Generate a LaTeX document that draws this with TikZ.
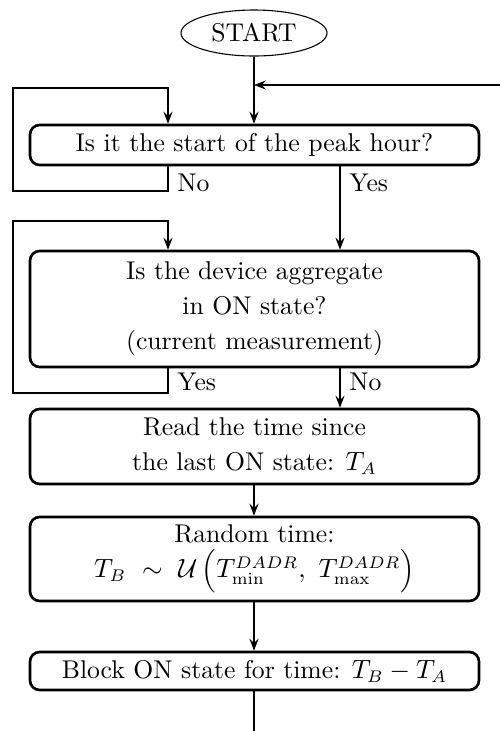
\documentclass[tikz,border=0pt]{standalone}
\usetikzlibrary{arrows.meta,shapes.geometric,calc}
\newdimen\pxu \pxu=0.415pt
\begin{document}
\begin{tikzpicture}[x=0.415pt,y=-0.415pt,
  box/.style={draw,line width=1.1pt,rounded corners=4pt,minimum width=449\pxu,align=center,inner sep=0pt},
  arr/.style={line width=0.45pt,-{Stealth[length=5pt,width=3.8pt,inset=1.8pt]}},
  con/.style={line width=0.45pt},
  lab/.style={anchor=west,inner sep=0pt},
  font=\fontsize{10.65}{14.5}\selectfont]
\useasboundingbox (0,0) rectangle (500,731);
% main column
\node[draw,ellipse,line width=0.45pt,minimum width=146\pxu,minimum height=46\pxu,inner sep=0pt] (start) at (254,33) {START};
\node[box,minimum height=40\pxu] (b1) at (254.5,145) {Is it the start of the peak hour?};
\node[box,minimum height=116\pxu] (b2) at (254.5,309) {Is the device aggregate\\in ON state?\\(current measurement)};
\node[box,minimum height=75\pxu] (b3) at (254.5,446.5) {Read the time since\\the last ON state: $T_A$};
\node[box,minimum height=84\pxu] (b4) at (254.5,559) {Random time:\\$T_B\ \sim\ \mathcal{U}\,\Bigl(T^{DADR}_{\min},\ T^{DADR}_{\max}\Bigr)$};
\node[box,minimum height=38\pxu] (b5) at (254.5,671) {Block ON state for time: $T_B-T_A$};
% guide coordinates
\coordinate (xl) at (168,0);
\coordinate (xr) at (340,0);
\coordinate (xc) at (254,0);
\coordinate (fb) at (500,85);
\coordinate (fin) at (254,731);
% connectors
\draw[arr] (start) -- (b1.north -| xc);
\draw[arr] (fb) -- (fb -| xc);
\draw[arr] (b1.south -| xl) |- (13,191) |- (168,88) -- (b1.north -| xl);
\draw[arr] (b1.south -| xr) -- (b2.north -| xr);
\draw[arr] (b2.south -| xl) |- (13,393) |- (168,221) -- (b2.north -| xl);
\draw[arr] (b2.south -| xr) -- (b3.north -| xr);
\draw[arr] (b3.south -| xc) -- (b4.north -| xc);
\draw[arr] (b4.south -| xc) -- (b5.north -| xc);
\draw[con] (b5.south -| xc) -- (fin);
% branch labels
\node[lab] (n1) at (177,183) {No};
\node[lab] (y1) at (349,183) {Yes};
\node[lab] (y2) at (177,382) {Yes};
\node[lab] (n2) at (349,382) {No};
\end{tikzpicture}
\end{document}
